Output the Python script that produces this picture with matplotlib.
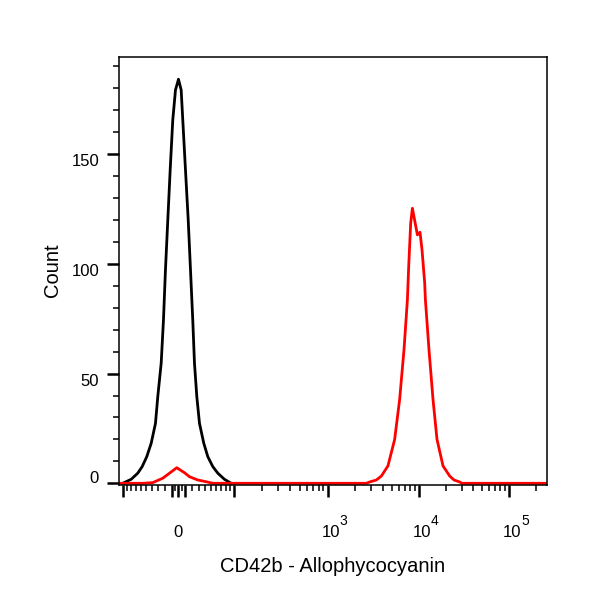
import numpy as np
import matplotlib
matplotlib.use("Agg")
import matplotlib.pyplot as plt
from matplotlib.transforms import ScaledTranslation

plt.rcParams['font.family'] = ['Liberation Sans', 'DejaVu Sans']

# control (black) histogram
black_x = [-101.3, -80.7, -66.5, -57.8, -49.4, -41.7, -34.6, -30.9, -25.6, -22.1, -19.1,
           -15.6, -12.1, -8.3, -4.35, 0, 3.9, 6.25, 10.2, 14.2, 17.6, 21.0, 23.6, 27.2,
           31.4, 38.4, 45.2, 54.1, 63.7, 77.7, 93.5]
black_y = [0, 1.8, 4.6, 7.6, 12.1, 18.2, 27.3, 39.5, 54.7, 74.4, 97.2,
           120.0, 142.7, 165.5, 179.2, 184.1, 179.2, 165.5, 142.7, 120.0, 97.2, 74.4, 54.7, 39.5,
           27.3, 18.2, 12.1, 7.6, 4.6, 1.8, 0]

# CD42b stained (red) histogram
red_x = [-113, -56.7, -39.1, -23.2, -13.1, -2.5, 8.8, 16.1, 28.7, 42.4, 54.1,
         2640, 2870, 3400, 3860, 4560, 5410, 6140, 6860, 7480, 7730, 8130, 8490, 9650,
         10310, 10850, 11620, 11830, 12960, 14360, 15900, 18540, 21990, 24550, 28390, 30000,
         262144]
red_y = [0, 0, 0.3, 2.3, 4.6, 7.1, 4.8, 3.0, 1.5, 0.7, 0,
         0, 0.6, 1.5, 3.3, 7.9, 20.0, 38.2, 60.9, 83.6, 98.8, 118.5, 125.3, 113.2,
         114.4, 106.4, 91.2, 83.6, 60.9, 38.2, 20.0, 7.9, 3.3, 1.5, 0.6, 0,
         0]

xtick_major = [-100, -10, 0, 10, 100, 1e3, 1e4, 1e5]
xtick_minor = ([-90, -80, -70, -60, -50, -40, -30, -20, -5, 5, 20, 30, 40, 50, 60, 70, 80, 90]
               + [k * 100 for k in range(2, 10)] + [k * 1000 for k in range(2, 10)]
               + [k * 10000 for k in range(2, 10)] + [200000])
xlabel_pos = [1e3, 1e4, 1e5]
xlabel_exp = ['3', '4', '5']
ytick_major = [0, 50, 100, 150]
ytick_minor = [10, 20, 30, 40, 60, 70, 80, 90, 110, 120, 130, 140, 160, 170, 180, 190]

# logicle-like display (biexponential)
C = 21.4
P = 1.65


def logicle_inv(u):
    u = np.asarray(u, dtype=float)
    a = np.abs(u)
    return np.sign(u) * C * (10 ** a - P ** 2 * 10 ** (-a / P) + P ** 2 - 1)


u_grid = np.linspace(-1.5, 4.6, 60001)
x_grid = logicle_inv(u_grid)


def logicle_fwd(x):
    return np.interp(np.asarray(x, dtype=float), x_grid, u_grid)


fig = plt.figure(figsize=(6, 6), dpi=100)
ax = fig.add_axes([0.1975, 0.1917, 0.7137, 0.7128])
ax.set_xscale('function', functions=(logicle_fwd, logicle_inv))

ax.plot(black_x, black_y, color='black', lw=2.0, solid_joinstyle='round')
ax.plot(red_x, red_y, color='#ff0000', lw=2.0, solid_joinstyle='round')

ax.set_xlim(-113, 262144)
ax.set_ylim(-0.77, 194.1)

ax.set_xticks(xtick_major)
ax.set_xticks(xtick_minor, minor=True)
ax.set_xticklabels([''] * len(xtick_major))
ax.set_yticks(ytick_major)
ax.set_yticks(ytick_minor, minor=True)
ax.set_yticklabels([str(v) for v in ytick_major])

ax.tick_params(which='major', direction='out', length=8.5, width=1.8, labelsize=12, pad=5.5)
ax.tick_params(which='minor', direction='out', length=4.5, width=1.1)
for sp in ax.spines.values():
    sp.set_linewidth(1.1)

for t in ax.yaxis.get_major_ticks():
    t.label1.set_va('top')
ax.yaxis.get_major_ticks()[0].label1.set_va('baseline')

# x tick labels: 0 and 10^n drawn as text so the superscript sits like the original
trans = ax.get_xaxis_transform()
ax.text(0, -0.1209, '0', transform=trans, ha='center', va='baseline', fontsize=12, clip_on=False)
for xp, e in zip(xlabel_pos, xlabel_exp):
    ax.text(xp, -0.1209, '10', ha='left', va='baseline', fontsize=12, clip_on=False,
            transform=trans + ScaledTranslation(-6 / 100, 0, fig.dpi_scale_trans))
    ax.text(xp, -0.1209, e, ha='left', va='baseline', fontsize=10, clip_on=False,
            transform=trans + ScaledTranslation(12 / 100, 12 / 100, fig.dpi_scale_trans))

ax.text(0.5, -0.2034, 'CD42b - Allophycocyanin', transform=ax.transAxes,
        ha='center', va='baseline', fontsize=14.5)
ax.text(-0.154, 0.503, 'Count', transform=ax.transAxes, rotation=90,
        ha='center', va='center', fontsize=14.5)

fig.savefig('out.png', dpi=100)
